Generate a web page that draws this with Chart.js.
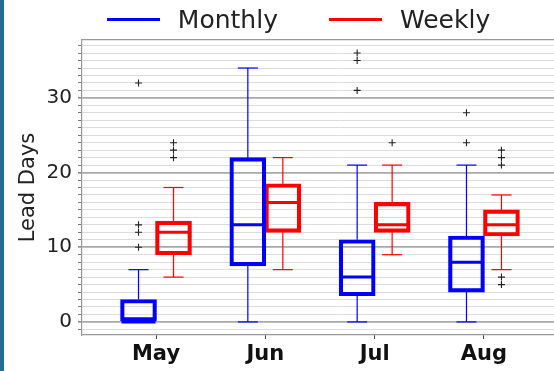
<!DOCTYPE html>
<html>
<head>
<meta charset="utf-8">
<script src="https://cdn.jsdelivr.net/npm/chart.js@4/dist/chart.umd.min.js"></script>
<style>
  html, body { margin: 0; padding: 0; background: #fff; overflow: hidden; }
  #wrap { position: relative; width: 554px; height: 371px; overflow: hidden; background: #fff; }
  #edge { position: absolute; left: 0; top: 0; width: 4px; height: 371px; background: #246f8f; z-index: 3; }
  #plot { position: absolute; left: 0; top: 0; width: 597px; height: 371px; }
  #legend { position: absolute; left: 0; top: 5px; width: 597px; display: flex; justify-content: center;
            align-items: center; font-family: "DejaVu Sans", sans-serif; font-size: 25px; color: #222; z-index: 2; }
  .item { display: flex; align-items: center; }
  .item + .item { margin-left: 51px; }
  .swatch { width: 53px; height: 3px; margin-right: 18px; }
</style>
</head>
<body>
<div id="wrap">
  <div id="edge"></div>
  <div id="plot"><canvas id="chart"></canvas></div>
  <div id="legend"></div>
</div>
<script>
// Lead-time distributions per month
const months = ['May', 'Jun', 'Jul', 'Aug'];
const seriesNames = ['Monthly', 'Weekly'];
const seriesColors = ['#0000ff', '#ff0000'];

const monthlyLow      = [0, 0, 0, 0];
const monthlyQ1       = [0, 7.5, 3.5, 4];
const monthlyMedian   = [0, 13, 6, 8];
const monthlyQ3       = [3, 22, 11, 11.5];
const monthlyHigh     = [7, 34, 21, 21];
const monthlyOutliers = [[10, 12, 13, 32], [], [31, 35, 36], [24, 28]];

const weeklyLow       = [6, 7, 9, 7];
const weeklyQ1        = [9, 12, 12, 11.5];
const weeklyMedian    = [12, 16, 13, 13];
const weeklyQ3        = [13.5, 18.5, 16, 15];
const weeklyHigh      = [18, 22, 21, 17];
const weeklyOutliers  = [[22, 23, 24], [], [24], [5, 6, 21, 22, 23]];

const yTickLabels = [0, 10, 20, 30];

// Box centres sit either side of each month position
const OFFSET = 0.16;

function boxes(q1, q3, off) {
  return q1.map((v, i) => ({ x: i + 1 + off, y: [v, q3[i]] }));
}
function whiskers(low, q1, q3, high, off) {
  const d = [];
  low.forEach((v, i) => {
    const x = i + 1 + off;
    d.push({ x, y: v }, { x, y: q1[i] }, { x, y: null },
           { x, y: q3[i] }, { x, y: high[i] }, { x, y: null });
  });
  return d;
}
function caps(low, high, off) {
  const d = [];
  low.forEach((v, i) => { d.push({ x: i + 1 + off, y: v }, { x: i + 1 + off, y: high[i] }); });
  return d;
}
function points(values, off) {
  return values.map((v, i) => ({ x: i + 1 + off, y: v }));
}
function fliers(groups, off) {
  const d = [];
  groups.forEach((g, i) => g.forEach(v => d.push({ x: i + 1 + off, y: v })));
  return d;
}

function seriesDatasets(name, color, low, q1, med, q3, high, out, off) {
  return [
    { type: 'bar', label: name, legend: true, data: boxes(q1, q3, off),
      backgroundColor: 'rgba(0,0,0,0)', borderColor: color, borderWidth: 3.5,
      borderSkipped: false, barThickness: 36, grouped: false, order: 2 },
    { type: 'line', label: name + ' whiskers', data: whiskers(low, q1, q3, high, off),
      borderColor: color, borderWidth: 1.2, pointRadius: 0, spanGaps: false, fill: false, order: 3 },
    { type: 'scatter', label: name + ' caps', data: caps(low, high, off),
      pointStyle: 'line', pointRadius: 10, borderColor: color, borderWidth: 1.2, order: 3 },
    { type: 'scatter', label: name + ' median', data: points(med, off),
      pointStyle: 'line', pointRadius: 17, borderColor: color, borderWidth: 3, order: 1 },
    { type: 'scatter', label: name + ' outliers', data: fliers(out, off),
      pointStyle: 'cross', pointRadius: 3.5, borderColor: '#222', borderWidth: 1.1, order: 0 }
  ];
}

const datasets = [
  ...seriesDatasets(seriesNames[0], seriesColors[0], monthlyLow, monthlyQ1, monthlyMedian,
                    monthlyQ3, monthlyHigh, monthlyOutliers, -OFFSET),
  ...seriesDatasets(seriesNames[1], seriesColors[1], weeklyLow, weeklyQ1, weeklyMedian,
                    weeklyQ3, weeklyHigh, weeklyOutliers, OFFSET)
];

// HTML legend listing the two series
const htmlLegend = {
  id: 'htmlLegend',
  afterUpdate(chart) {
    const host = document.getElementById('legend');
    host.innerHTML = '';
    chart.data.datasets.filter(ds => ds.legend).forEach(ds => {
      const item = document.createElement('div');
      item.className = 'item';
      const sw = document.createElement('span');
      sw.className = 'swatch';
      sw.style.background = ds.borderColor;
      const txt = document.createElement('span');
      txt.textContent = ds.label;
      item.appendChild(sw);
      item.appendChild(txt);
      host.appendChild(item);
    });
  }
};

const font = 'DejaVu Sans';

new Chart(document.getElementById('chart'), {
  type: 'bar',
  data: { datasets },
  plugins: [htmlLegend],
  options: {
    responsive: true,
    maintainAspectRatio: false,
    animation: false,
    events: [],
    layout: { autoPadding: false, padding: { top: 40, left: 0, right: 0, bottom: 0 } },
    plugins: { legend: { display: false }, tooltip: { enabled: false } },
    scales: {
      x: {
        type: 'linear', position: 'bottom', min: 0.323, max: 5.034, offset: false,
        afterBuildTicks: s => { s.ticks = months.map((m, i) => ({ value: i + 1 })); },
        afterFit: s => { s.height = 36; },
        ticks: {
          autoSkip: false, maxRotation: 0, padding: 3, color: '#111',
          font: { family: font, size: 21, weight: 'bold' },
          callback: v => months[v - 1] || ''
        },
        grid: { offset: false, drawOnChartArea: false, drawTicks: true, tickLength: 4, tickColor: '#444', tickWidth: 1 },
        border: { display: true, color: '#999', width: 1.2 }
      },
      xTop: {
        type: 'linear', position: 'top', min: 0.323, max: 5.034, offset: false,
        afterFit: s => { s.height = 0; },
        ticks: { display: false },
        grid: { display: false, drawTicks: false, offset: false },
        border: { display: true, color: '#999', width: 1.2 }
      },
      y: {
        type: 'linear', position: 'left', min: -1.75, max: 37.75,
        afterBuildTicks: s => {
          const t = [];
          for (let v = -1; v <= 37; v++) t.push({ value: v });
          s.ticks = t;
        },
        afterFit: s => { s.width = 82; },
        ticks: {
          autoSkip: false, padding: 6, color: '#222',
          font: { family: font, size: 20 },
          callback: v => yTickLabels.includes(v) ? String(v) : ''
        },
        grid: {
          drawTicks: true, tickLength: 4,
          color: c => (c.tick && c.tick.value % 10 === 0) ? '#a9a9a9' : '#dcdcdc',
          lineWidth: c => (c.tick && c.tick.value % 10 === 0) ? 1.8 : 1,
          tickColor: c => (c.tick && c.tick.value % 10 === 0) ? '#444' : '#777',
          tickWidth: 1
        },
        border: { display: true, color: '#999', width: 1.2 },
        title: {
          display: true, text: 'Lead Days', color: '#222',
          font: { family: font, size: 21 }, padding: { top: 16, bottom: 0 }
        }
      }
    }
  }
});
</script>
</body>
</html>
